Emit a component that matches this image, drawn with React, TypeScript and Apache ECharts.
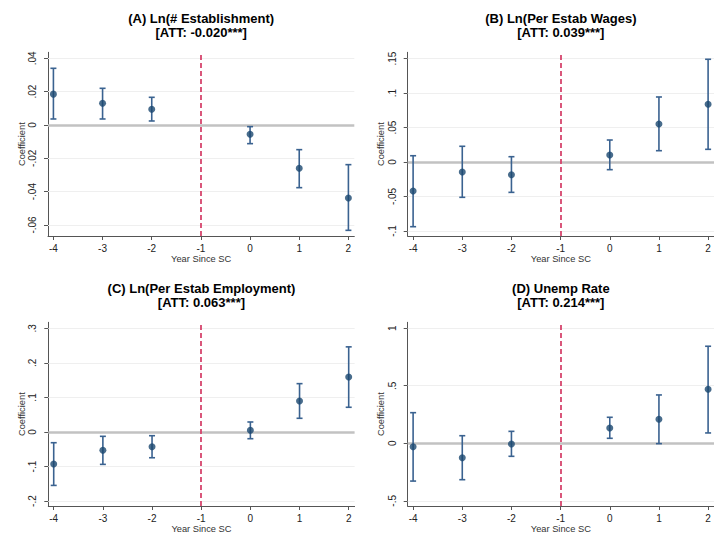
import React, { useEffect, useRef } from "react";
import * as echarts from "echarts";

const years = [-4, -3, -2, 0, 1, 2];
const xTicks = [-4, -3, -2, -1, 0, 1, 2];

const titleLine1 = ["(A) Ln(# Establishment)", "(B) Ln(Per Estab Wages)", "(C) Ln(Per Estab Employment)", "(D) Unemp Rate"];
const titleLine2 = ["[ATT: -0.020***]", "[ATT: 0.039***]", "[ATT: 0.063***]", "[ATT: 0.214***]"];

const coefA = [0.0185, 0.013, 0.0094, -0.0056, -0.026, -0.0438];
const loA = [0.0036, 0.0036, 0.0024, -0.0112, -0.0376, -0.0632];
const hiA = [0.034, 0.022, 0.0166, -0.001, -0.0148, -0.0238];
const ticksA = [-0.06, -0.04, -0.02, 0, 0.02, 0.04];

const coefB = [-0.042, -0.0145, -0.0184, 0.0101, 0.0551, 0.0837];
const loB = [-0.0938, -0.0512, -0.044, -0.0111, 0.0164, 0.0184];
const hiB = [0.0091, 0.0228, 0.0077, 0.0319, 0.0943, 0.149];
const ticksB = [-0.1, -0.05, 0, 0.05, 0.1, 0.15];

const coefC = [-0.0928, -0.053, -0.0426, 0.0049, 0.0899, 0.1595];
const loC = [-0.1546, -0.0937, -0.0745, -0.0194, 0.0397, 0.0716];
const hiC = [-0.031, -0.0125, -0.0107, 0.029, 0.14, 0.2465];
const ticksC = [-0.2, -0.1, 0, 0.1, 0.2, 0.3];

const coefD = [-0.0296, -0.125, -0.006, 0.133, 0.209, 0.47];
const loD = [-0.328, -0.316, -0.113, 0.0435, -0.003, 0.09];
const hiD = [0.266, 0.066, 0.104, 0.226, 0.42, 0.843];
const ticksD = [-0.5, 0, 0.5, 1];

const panels = [
  { coef: coefA, lo: loA, hi: hiA, ticks: ticksA, yMin: -0.0666, yMax: 0.0436, left: 48, top: 52.3 },
  { coef: coefB, lo: loB, hi: hiB, ticks: ticksB, yMin: -0.1073, yMax: 0.1591, left: 407.7, top: 52.3 },
  { coef: coefC, lo: loC, hi: hiC, ticks: ticksC, yMin: -0.2142, yMax: 0.3176, left: 48.3, top: 322.3 },
  { coef: coefD, lo: loD, hi: hiD, ticks: ticksD, yMin: -0.5445, yMax: 1.051, left: 407.7, top: 322.3 },
];

const GRID_W = 306.3;
const GRID_H = 183.7;
const FONT = "'Liberation Sans', Arial, sans-serif";
const NAVY = "#1a476f";
const BAR = "#3a6290";
const RED = "#d6456d";

const fmt = (v: number) => {
  const s = String(v);
  return s.replace(/^0\./, ".").replace(/^-0\./, "-.");
};

export default function App() {
  const ref = useRef<HTMLDivElement>(null);
  useEffect(() => {
    if (!ref.current) return;
    const chart = echarts.init(ref.current, undefined, { renderer: "svg" });
    const grid: any[] = [];
    const xAxis: any[] = [];
    const yAxis: any[] = [];
    const series: any[] = [];
    const title: any[] = [];
    panels.forEach((p, i) => {
      grid.push({ left: p.left, top: p.top, width: GRID_W, height: GRID_H, containLabel: false });
      [titleLine1[i], titleLine2[i]].forEach((t, j) => {
        title.push({
          text: t,
          left: p.left + GRID_W / 2,
          top: p.top - 40 + j * 14,
          textAlign: "center",
          padding: 0,
          textStyle: { fontFamily: FONT, fontSize: 13, fontWeight: "bold", color: "#000", lineHeight: 13 },
        });
      });
      xAxis.push({
        type: "value",
        gridIndex: i,
        min: -4.11,
        max: 2.12,
        name: "Year Since SC",
        nameLocation: "middle",
        nameGap: 16.5,
        nameTextStyle: { fontFamily: FONT, fontSize: 9.3, color: "#333" },
        axisLine: { show: true, onZero: false, lineStyle: { color: "#555", width: 1 } },
        axisTick: { show: true, length: 4, lineStyle: { color: "#555" }, customValues: xTicks },
        axisLabel: { fontFamily: FONT, fontSize: 10, color: "#222", margin: 7.5, customValues: xTicks, formatter: (v: number) => String(v) },
        splitLine: { show: false },
      });
      yAxis.push({
        type: "value",
        gridIndex: i,
        min: p.yMin,
        max: p.yMax,
        name: "Coefficient",
        nameLocation: "middle",
        nameGap: 22,
        nameTextStyle: { fontFamily: FONT, fontSize: 9.3, color: "#333" },
        axisLine: { show: true, onZero: false, lineStyle: { color: "#555", width: 1 } },
        axisTick: { show: true, length: 4, lineStyle: { color: "#555" }, customValues: p.ticks },
        axisLabel: { fontFamily: FONT, fontSize: 10, color: "#222", rotate: 90, margin: 10.5, customValues: p.ticks, formatter: (v: number) => fmt(v) },
        splitLine: { show: false },
      });
      const refLines: any[] = p.ticks
        .filter((t) => t !== 0)
        .map((t) => ({ yAxis: t, lineStyle: { color: "#efefef", width: 1, type: "solid" } }));
      refLines.push({ yAxis: 0, lineStyle: { color: "#c2c2c2", width: 2.6, type: "solid" } });
      refLines.push({ xAxis: -1, lineStyle: { color: RED, width: 1.8, type: [5, 3] } });
      series.push({
        type: "custom",
        xAxisIndex: i,
        yAxisIndex: i,
        z: 2,
        silent: true,
        data: years.map((y, k) => [y, p.lo[k], p.hi[k]]),
        encode: { x: 0, y: [1, 2] },
        renderItem: (params: any, api: any) => {
          const x = api.value(0);
          const a = api.coord([x, api.value(1)]);
          const b = api.coord([x, api.value(2)]);
          const w = 3;
          const st = { stroke: BAR, lineWidth: 1.6 };
          return {
            type: "group",
            children: [
              { type: "line", shape: { x1: a[0], y1: a[1], x2: b[0], y2: b[1] }, style: st },
              { type: "line", shape: { x1: a[0] - w, y1: a[1], x2: a[0] + w, y2: a[1] }, style: st },
              { type: "line", shape: { x1: b[0] - w, y1: b[1], x2: b[0] + w, y2: b[1] }, style: st },
            ],
          };
        },
      });
      series.push({
        type: "scatter",
        xAxisIndex: i,
        yAxisIndex: i,
        z: 3,
        symbol: "circle",
        symbolSize: 7,
        itemStyle: { color: NAVY },
        data: years.map((y, k) => [y, p.coef[k]]),
        markLine: {
          z: 1,
          silent: true,
          symbol: ["none", "none"],
          label: { show: false },
          data: refLines,
        },
      });
    });
    chart.setOption({
      animation: false,
      backgroundColor: "#fff",
      title,
      grid,
      xAxis,
      yAxis,
      series,
    });
    return () => chart.dispose();
  }, []);
  return <div ref={ref} style={{ position: "fixed", left: 0, top: 0, width: 714, height: 541 }} />;
}
